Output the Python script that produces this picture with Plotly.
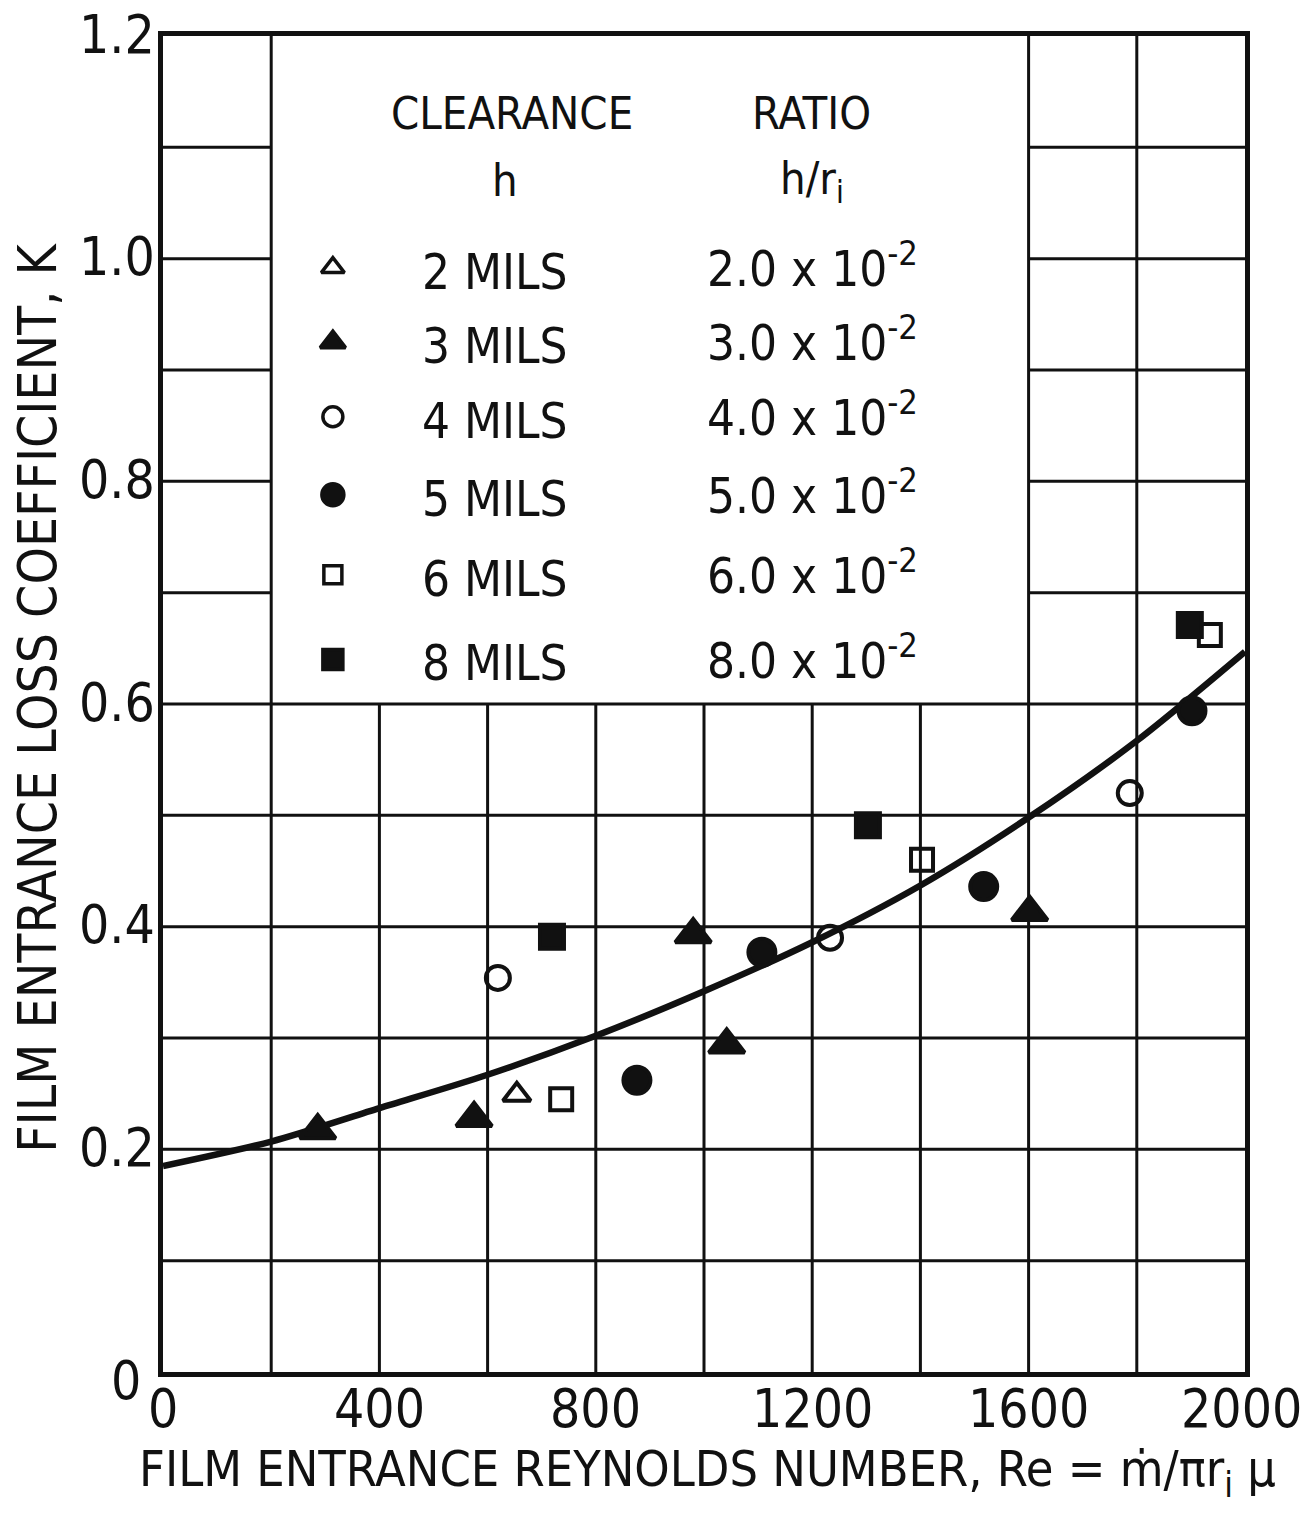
import plotly.graph_objects as go

# ---- data ----
re_2mil = [654]
k_2mil = [0.249]
re_3mil = [286, 575, 980, 1042, 1602]
k_3mil = [0.217, 0.228, 0.393, 0.294, 0.413]
re_4mil = [619, 1233, 1787]
k_4mil = [0.354, 0.390, 0.520]
re_5mil = [876, 1107, 1517, 1902]
k_5mil = [0.262, 0.377, 0.436, 0.594]
re_6mil = [736, 1403, 1935]
k_6mil = [0.245, 0.460, 0.662]
re_8mil = [719, 1303, 1898]
k_8mil = [0.391, 0.491, 0.671]

curve_re = [0, 200, 400, 600, 800, 1000, 1200, 1400, 1600, 1800, 2000]
curve_k = [0.185, 0.207, 0.237, 0.267, 0.302, 0.342, 0.386, 0.437, 0.498, 0.567, 0.647]

legend_clearance = ["2 MILS", "3 MILS", "4 MILS", "5 MILS", "6 MILS", "8 MILS"]
legend_ratio = ["2.0", "3.0", "4.0", "5.0", "6.0", "8.0"]
legend_symbols = ["triangle-up-open", "triangle-up", "circle-open", "circle", "square-open", "square"]

x_ticks = [0, 400, 800, 1200, 1600, 2000]
x_ticktext = ["0", "400", "800", "1200", "1600", "2000"]
y_ticks = [0, 0.2, 0.4, 0.6, 0.8, 1.0, 1.2]
y_ticktext = ["0", "0.2", "0.4", "0.6", "0.8", "1.0", "1.2"]

FONT = "DejaVu Sans Condensed, Liberation Sans Narrow, DejaVu Sans"
BLACK = "#111111"

fig = go.Figure()

# grid drawn as shapes (legend panel blanks the upper middle)
shapes = []
box_x0, box_x1, box_y0 = 200, 1600, 0.6
for gx in range(200, 2000, 200):
    top = 1.2 if (gx <= box_x0 or gx >= box_x1) else box_y0
    shapes.append(dict(type="line", xref="x", yref="y", x0=gx, x1=gx, y0=0, y1=top,
                       line=dict(color=BLACK, width=3), layer="below"))
for i in range(1, 12):
    gy = i / 10
    if gy <= box_y0 + 1e-9:
        shapes.append(dict(type="line", xref="x", yref="y", x0=0, x1=2000, y0=gy, y1=gy,
                           line=dict(color=BLACK, width=3), layer="below"))
    else:
        for a, b in [(0, box_x0), (box_x1, 2000)]:
            shapes.append(dict(type="line", xref="x", yref="y", x0=a, x1=b, y0=gy, y1=gy,
                               line=dict(color=BLACK, width=3), layer="below"))

# fitted curve
fig.add_trace(go.Scatter(x=curve_re, y=curve_k, mode="lines",
                         line=dict(color=BLACK, width=6.5, shape="spline", smoothing=0.8),
                         hoverinfo="skip", showlegend=False))

series = [
    (re_2mil, k_2mil, "triangle-up-open", 24),
    (re_3mil, k_3mil, "triangle-up", 31),
    (re_4mil, k_4mil, "circle-open", 24),
    (re_5mil, k_5mil, "circle", 27),
    (re_6mil, k_6mil, "square-open", 22),
    (re_8mil, k_8mil, "square", 24),
]
for xs, ys, sym, sz in series:
    fig.add_trace(go.Scatter(x=xs, y=ys, mode="markers",
                             marker=dict(symbol=sym, size=sz, color=BLACK,
                                         line=dict(color=BLACK, width=4)),
                             showlegend=False))

# legend table inside the plot
row_y = [0.992, 0.925, 0.858, 0.788, 0.716, 0.640]
sym_x = 314
leg_sizes = [20, 22, 20, 22, 18, 20]
for sym, yy, sz in zip(legend_symbols, row_y, leg_sizes):
    fig.add_trace(go.Scatter(x=[sym_x], y=[yy], mode="markers",
                             marker=dict(symbol=sym, size=sz, color=BLACK,
                                         line=dict(color=BLACK, width=3.5)),
                             showlegend=False, hoverinfo="skip"))

annotations = []
tf = dict(family=FONT, size=45, color=BLACK)
annotations.append(dict(x=645, y=1.130, xref="x", yref="y", text="CLEARANCE", showarrow=False, font=tf))
annotations.append(dict(x=632, y=1.070, xref="x", yref="y", text="h", showarrow=False, font=tf))
annotations.append(dict(x=1198, y=1.130, xref="x", yref="y", text="RATIO", showarrow=False, font=tf))
annotations.append(dict(x=1200, y=1.070, xref="x", yref="y", text="h/r<sub>i</sub>", showarrow=False, font=tf))
lf = dict(family=FONT, size=49, color=BLACK)
for c, r, yy in zip(legend_clearance, legend_ratio, row_y):
    annotations.append(dict(x=614, y=yy - 0.004, xref="x", yref="y", text=c, showarrow=False, font=lf))
    annotations.append(dict(x=1200, y=yy + 0.002, xref="x", yref="y",
                            text=r + " x 10<sup>-2</sup>", showarrow=False, font=lf))

# tick labels
tkf = dict(family=FONT, size=53, color=BLACK)
for v, t in zip(x_ticks, x_ticktext):
    annotations.append(dict(x=v, y=0, xref="x", yref="y", text=t, showarrow=False,
                            yanchor="top", xanchor="center", yshift=-4,
                            xshift=-4 if v == 2000 else 0, font=tkf))
for v, t in zip(y_ticks, y_ticktext):
    annotations.append(dict(x=0, y=v, xref="x", yref="y", text=t, showarrow=False,
                            xanchor="right", yanchor="middle",
                            xshift=-20 if v == 0 else -6,
                            yshift=-8 if v == 0 else 2, font=tkf))

# axis titles
ttf = dict(family=FONT, size=50, color=BLACK)
annotations.append(dict(x=0.503, y=-0.075, xref="paper", yref="paper", showarrow=False,
                        xanchor="center", yanchor="middle", font=ttf,
                        text="FILM ENTRANCE REYNOLDS NUMBER, Re = ṁ/πr<sub>i</sub> μ"))
annotations.append(dict(x=-0.116, y=0.505, xref="paper", yref="paper", showarrow=False,
                        xanchor="center", yanchor="middle", textangle=-90,
                        font=dict(family=FONT, size=53, color=BLACK),
                        text="FILM ENTRANCE LOSS COEFFICIENT, K"))

fig.update_layout(
    width=1309, height=1520,
    margin=dict(l=163, r=64, t=36, b=148),
    paper_bgcolor="white", plot_bgcolor="white",
    shapes=shapes, annotations=annotations,
    font=dict(family=FONT, color=BLACK),
)
fig.update_xaxes(range=[0, 2000], showticklabels=False, showgrid=False, zeroline=False,
                 showline=True, linewidth=5, linecolor=BLACK, mirror=True, ticks="")
fig.update_yaxes(range=[0, 1.2], showticklabels=False, showgrid=False,
                 zeroline=False, showline=True, linewidth=5, linecolor=BLACK, mirror=True,
                 ticks="")

fig.write_html("out.html")
